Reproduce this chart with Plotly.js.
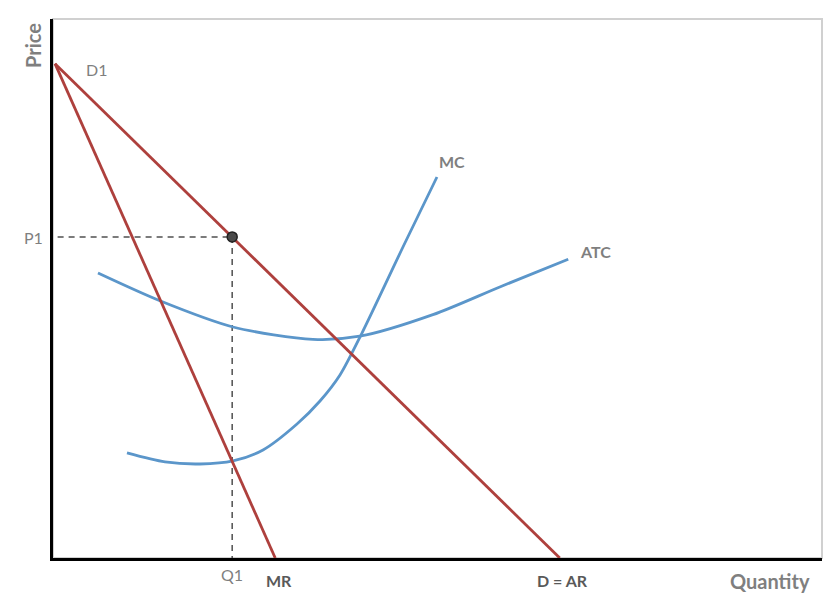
<!DOCTYPE html>
<html>
<head>
<meta charset="utf-8">
<script src="https://cdn.plot.ly/plotly-3.0.1.min.js"></script>
<style>html,body{margin:0;padding:0;background:#fff;}#chart{width:837px;height:595px;}</style>
</head>
<body>
<div id="chart"></div>
<script>
// Demand (D = AR) line endpoints
const demandQ = [0.26, 65.9];
const demandP = [64.2, 0];
// Marginal revenue line endpoints
const mrQ = [0.26, 28.9];
const mrP = [64.2, 0];
// Average total cost curve
const atcQ = [5.85, 13.9, 23.4, 33.8, 39.9, 49.4, 58.1, 67.0];
const atcP = [37.0, 33.4, 30.0, 28.4, 28.8, 31.6, 35.2, 38.8];
// Marginal cost curve
const mcQ = [9.62, 14.56, 19.12, 23.41, 27.31, 31.73, 34.72, 37.32, 40.18, 45.51, 49.93];
const mcP = [13.64, 12.47, 12.21, 12.60, 14.03, 17.40, 20.39, 23.77, 29.22, 40.39, 49.48];
// Profit-maximising point
const q1 = 23.3;
const p1 = 41.7;

const red = '#AE403D';
const blue = '#5B96CA';
const dashCol = '#505050';

const traces = [
  {x: [0.6, q1], y: [p1, p1], mode: 'lines', line: {color: dashCol, width: 1.5, dash: '6px,5px'}, hoverinfo: 'skip'},
  {x: [q1, q1], y: [p1, 0], mode: 'lines', line: {color: dashCol, width: 1.5, dash: '6px,5px'}, hoverinfo: 'skip'},
  {x: atcQ, y: atcP, mode: 'lines', line: {color: blue, width: 2.8, shape: 'spline', smoothing: 0.8}},
  {x: mcQ, y: mcP, mode: 'lines', line: {color: blue, width: 2.8, shape: 'spline', smoothing: 0.8}},
  {x: demandQ, y: demandP, mode: 'lines', line: {color: red, width: 2.8}},
  {x: mrQ, y: mrP, mode: 'lines', line: {color: red, width: 2.8}},
  {x: [q1], y: [p1], mode: 'markers', marker: {color: '#4a4a4a', size: 10, line: {color: '#222', width: 1.5}}}
];

const font = 'Lato, "Open Sans", sans-serif';
function ann(x, y, text, opts) {
  return Object.assign({x: x, y: y, xref: 'paper', yref: 'paper', text: text, showarrow: false,
    font: {family: font, size: 16, color: '#7f7f7f'}, xanchor: 'center', yanchor: 'middle'}, opts || {});
}

const layout = {
  width: 837, height: 595,
  margin: {l: 53, r: 15, t: 19, b: 37},
  paper_bgcolor: '#fff', plot_bgcolor: '#fff',
  showlegend: false,
  xaxis: {range: [0, 100], showgrid: false, zeroline: false, showticklabels: false, ticks: '',
    showline: true, linecolor: '#000', linewidth: 3},
  yaxis: {range: [0, 70], showgrid: false, zeroline: false, showticklabels: false, ticks: '',
    showline: true, linecolor: '#000', linewidth: 3},
  shapes: [
    {type: 'rect', xref: 'paper', yref: 'paper', x0: 0, x1: 1, y0: 0, y1: 1,
      line: {color: '#d0d0d0', width: 2}, layer: 'below'}
  ],
  annotations: [
    ann(-0.026, 0.95, '<b>Price</b>', {textangle: -90, font: {family: 'Lato, sans-serif', size: 20, color: '#7f7f7f'}}),
    ann(0.933, -0.043, '<b>Quantity</b>', {font: {family: font, size: 20, color: '#7f7f7f'}}),
    ann(-0.025, 0.5955, 'P1'),
    ann(0.056, 0.906, 'D1'),
    ann(0.2328, -0.0315, 'Q1'),
    ann(0.294, -0.041, '<b>MR</b>', {font: {family: font, size: 16, color: '#595959'}}),
    ann(0.663, -0.041, '<b>D = AR</b>', {font: {family: font, size: 16, color: '#595959'}}),
    ann(0.519, 0.736, '<b>MC</b>'),
    ann(0.706, 0.569, '<b>ATC</b>')
  ]
};

Plotly.newPlot('chart', traces, layout, {staticPlot: true, displayModeBar: false});
</script>
</body>
</html>
